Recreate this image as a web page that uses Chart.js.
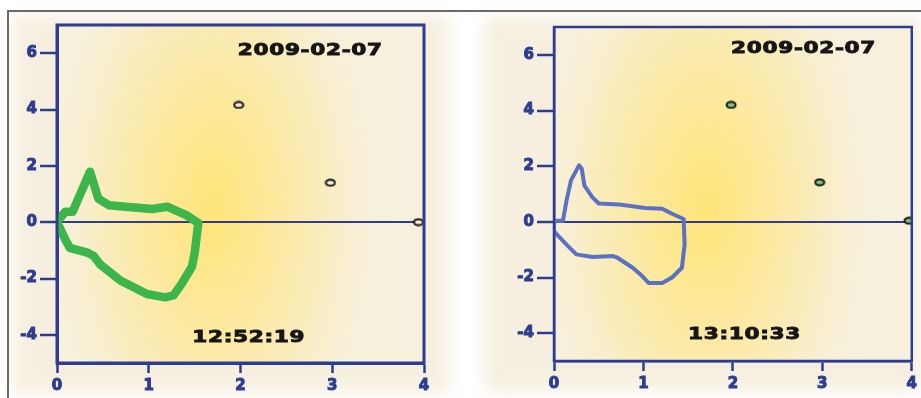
<!DOCTYPE html>
<html>
<head>
<meta charset="utf-8">
<script src="https://cdn.jsdelivr.net/npm/chart.js@4/dist/chart.umd.min.js"></script>
<style>
  html, body { margin: 0; padding: 0; background: #fff; }
  #wrap { position: relative; width: 921px; height: 398px; overflow: hidden; }
  #frame { position: absolute; left: 7px; top: 10px; width: 914px; height: 388px; z-index: 2;
           border-top: 2px solid #6a6a6a; border-left: 2px solid #6a6a6a; box-sizing: border-box; }
  canvas { position: absolute; top: 0; }
</style>
</head>
<body>
<div id="wrap">
  <div id="frame"></div>
  <canvas id="left" width="460" height="398" style="left:0"></canvas>
  <canvas id="right" width="461" height="398" style="left:460px"></canvas>
</div>
<script>
// axis ticks
const xTicks = [0, 1, 2, 3, 4];
const yTicks = [-4, -2, 0, 2, 4, 6];

// left panel (12:52:19) – loop
const leftLoopX = [0.00, 0.09, 0.17, 0.36, 0.45, 0.57, 0.78, 1.04, 1.20, 1.41, 1.54, 1.50, 1.47, 1.36, 1.27, 1.18, 0.98, 0.69, 0.47, 0.40, 0.33, 0.14, 0.09, 0.03, 0.00];
const leftLoopY = [0.00, 0.37, 0.37, 1.79, 0.84, 0.60, 0.54, 0.47, 0.55, 0.25, -0.03, -1.11, -1.59, -2.18, -2.60, -2.67, -2.55, -2.07, -1.50, -1.20, -1.08, -0.91, -0.62, -0.20, 0.00];
const leftDotX = [1.98, 2.98, 3.94];
const leftDotY = [4.16, 1.40, 0.00];

// right panel (13:10:33)
const rightLoopX = [0.00, 0.10, 0.14, 0.19, 0.28, 0.31, 0.34, 0.43, 0.50, 0.73, 1.02, 1.21, 1.32, 1.45, 1.46, 1.43, 1.32, 1.21, 1.06, 0.97, 0.88, 0.71, 0.66, 0.43, 0.25, 0.14, 0.05, 0.00, 0.00];
const rightLoopY = [0.04, 0.04, 0.76, 1.49, 2.03, 1.91, 1.30, 0.88, 0.66, 0.62, 0.50, 0.47, 0.29, 0.10, -0.82, -1.65, -2.00, -2.20, -2.20, -1.90, -1.65, -1.29, -1.23, -1.26, -1.17, -0.82, -0.51, -0.33, 0.04];
const rightDotX = [1.98, 2.97, 3.97];
const rightDotY = [4.20, 1.42, 0.04];

const dateLabel = '2009-02-07';
const leftTime = '12:52:19';
const rightTime = '13:10:33';

const NAVY = '#2c3d92';
const FONT = '"DejaVu Sans", Verdana, sans-serif';

// small ellipse marker
function ellipseDot(fill) {
  const c = document.createElement('canvas');
  c.width = 12; c.height = 9;
  const g = c.getContext('2d');
  g.beginPath();
  g.ellipse(6, 4.5, 4.5, 3, 0, 0, Math.PI * 2);
  g.fillStyle = fill; g.fill();
  g.lineWidth = 2; g.strokeStyle = '#151515'; g.stroke();
  return c;
}

const glow = {
  id: 'glow',
  beforeDraw(chart, args, o) {
    const { ctx, chartArea: a, scales: { x, y } } = chart;
    ctx.save();
    ctx.filter = 'blur(9px)';
    ctx.fillStyle = '#f6efdf';
    ctx.fillRect(a.left - o.padL, a.top - 10, a.width + o.padL + o.padR, a.height + 10 + o.padB);
    ctx.filter = 'none';
    ctx.beginPath();
    ctx.rect(a.left, a.top, a.width, a.height);
    ctx.clip();
    ctx.fillStyle = '#f7f0dc';
    ctx.fillRect(a.left, a.top, a.width, a.height);
    ctx.translate(x.getPixelForValue(o.cx), y.getPixelForValue(o.cy));
    ctx.scale(0.75, 1.4);
    const g = ctx.createRadialGradient(0, 0, 0, 0, 0, 235);
    g.addColorStop(0, '#ffe478');
    g.addColorStop(0.3, '#fde898');
    g.addColorStop(0.65, '#f9edc0');
    g.addColorStop(1, 'rgba(247,240,220,0)');
    ctx.fillStyle = g;
    ctx.fillRect(-500, -500, 1000, 1000);
    ctx.restore();
  }
};

const frameAndText = {
  id: 'frameAndText',
  afterDraw(chart, args, o) {
    const { ctx, chartArea: a, scales: { x, y } } = chart;
    ctx.save();
    ctx.strokeStyle = NAVY;
    ctx.lineWidth = o.lw;
    ctx.strokeRect(a.left, a.top, a.width, a.height);
    ctx.fillStyle = '#161616';
    ctx.strokeStyle = '#161616';
    ctx.lineWidth = 0.9;
    ctx.font = 'bold 16px ' + FONT;
    ctx.letterSpacing = '0.5px';
    ctx.textAlign = 'center';
    ctx.textBaseline = 'middle';
    o.texts.forEach(t => {
      ctx.save();
      ctx.translate(x.getPixelForValue(t.x), y.getPixelForValue(t.y));
      ctx.scale(1.35, 1);
      ctx.fillText(t.s, 0, 0);
      ctx.strokeText(t.s, 0, 0);
      ctx.restore();
    });
    ctx.restore();
  }
};

function makePanel(id, p) {
  new Chart(document.getElementById(id), {
    type: 'scatter',
    data: {
      datasets: [
        {
          data: p.loopX.map((v, i) => ({ x: v, y: p.loopY[i] })),
          showLine: true,
          borderColor: p.loopColor,
          borderWidth: p.loopWidth,
          borderJoinStyle: 'round',
          borderCapStyle: 'round',
          pointRadius: 0,
          tension: 0
        },
        {
          data: p.dotX.map((v, i) => ({ x: v, y: p.dotY[i] })),
          pointStyle: ellipseDot(p.dotFill),
          pointRadius: 5
        }
      ]
    },
    options: {
      responsive: false,
      animation: false,
      layout: { padding: p.pad },
      plugins: {
        legend: { display: false },
        tooltip: { enabled: false },
        glow: p.glow,
        frameAndText: { lw: p.axisWidth, texts: p.texts }
      },
      scales: {
        x: {
          type: 'linear', min: 0, max: 4,
          afterBuildTicks: s => { s.ticks = xTicks.map(v => ({ value: v })); },
          afterFit: s => { s.height = p.xH; },
          border: { display: true, color: NAVY, width: p.axisWidth },
          grid: { drawOnChartArea: false, tickLength: 10, tickColor: NAVY, tickWidth: 2.5 },
          ticks: { color: NAVY, padding: 4, textStrokeColor: NAVY, textStrokeWidth: 1,
                   font: { family: FONT, size: 15, weight: 'bold' } }
        },
        y: {
          type: 'linear', min: -5, max: 7,
          afterBuildTicks: s => { s.ticks = yTicks.map(v => ({ value: v })); },
          afterFit: s => { s.width = p.yW; },
          border: { display: true, color: NAVY, width: p.axisWidth },
          grid: {
            color: c => (c.tick && c.tick.value === 0 ? NAVY : 'rgba(0,0,0,0)'),
            lineWidth: 2,
            tickLength: p.yTick, tickColor: NAVY, tickWidth: 2.5
          },
          ticks: { color: NAVY, padding: 3, textStrokeColor: NAVY, textStrokeWidth: 1,
                   font: { family: FONT, size: 15, weight: 'bold' } }
        }
      }
    },
    plugins: [glow, frameAndText]
  });
}

makePanel('left', {
  loopX: leftLoopX, loopY: leftLoopY, loopColor: '#3cb54a', loopWidth: 8.5,
  dotX: leftDotX, dotY: leftDotY, dotFill: '#f3ecd6',
  pad: { left: 6, right: 36, top: 25, bottom: 0 },
  xH: 35, yW: 51, yTick: 17, axisWidth: 3,
  glow: { cx: 1.7, cy: 0.5, padL: 45, padR: 25, padB: 30 },
  texts: [{ s: dateLabel, x: 2.76, y: 6.1 }, { s: leftTime, x: 2.09, y: -4.1 }]
});

makePanel('right', {
  loopX: rightLoopX, loopY: rightLoopY, loopColor: '#5b72c4', loopWidth: 4,
  dotX: rightDotX, dotY: rightDotY, dotFill: '#7cc47a',
  pad: { left: 0, right: 5, top: 27, bottom: 0 },
  xH: 37, yW: 94, yTick: 17, axisWidth: 2.5,
  glow: { cx: 1.7, cy: 0.5, padL: 70, padR: 10, padB: 30 },
  texts: [{ s: dateLabel, x: 2.79, y: 6.2 }, { s: rightTime, x: 2.13, y: -4.06 }]
});
</script>
</body>
</html>
